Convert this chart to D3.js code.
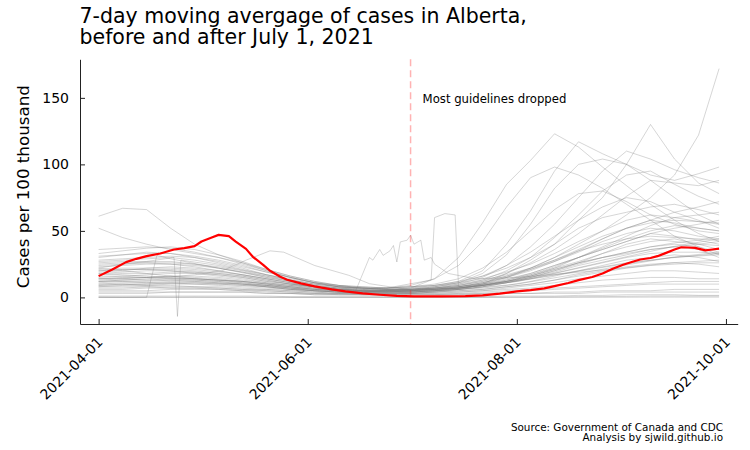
<!DOCTYPE html>
<html>
<head>
<meta charset="utf-8">
<script src="https://cdn.jsdelivr.net/npm/d3@7"></script>
<style>
  body { margin: 0; background: #fff; }
  text { font-family: "DejaVu Sans", sans-serif; }
</style>
</head>
<body>
<svg id="chart" width="750" height="450"></svg>
<script>
// weekly sample dates for the comparison jurisdictions
var weekDates = ["2021-04-01","2021-04-08","2021-04-15","2021-04-22","2021-04-29","2021-05-06","2021-05-13",
  "2021-05-20","2021-05-27","2021-06-03","2021-06-10","2021-06-17","2021-06-24","2021-07-01","2021-07-08",
  "2021-07-15","2021-07-22","2021-07-29","2021-08-05","2021-08-12","2021-08-19","2021-08-26","2021-09-02",
  "2021-09-09","2021-09-16","2021-09-23","2021-09-29"];

// 7-day avg cases per 100k, one row per state / province
var otherCases = [
  [22,20,18,16,14, 13,11,9,7,5, 4,4,5,7,14, 30,56,85,103,123, 113,98,84,70,58, 48,42],
  [18,17,16,15,14, 13,12,10,8,6, 5,5,6,7,9, 12,20,40,65,95, 117,108,100,88,75, 62,55],
  [12,12,11,11,10, 9,8,7,6,5, 4,4,5,6,8, 11,18,32,55,82, 100,104,100,92,88, 93,98],
  [8,8,8,7,7, 6,5,4,3,2, 2,2,2,3,4, 6,10,18,28,40, 58,75,100,130,104, 86,78],
  [10,10,9,9,8, 7,6,5,4,3, 3,3,3,4,5, 7,10,15,22,30, 40,50,62,75,92, 122,172],
  [14,14,13,13,12, 11,10,8,6,5, 4,4,4,5,7, 10,15,24,38,55, 75,95,110,104,96, 90,86],
  [20,21,21,20,18, 16,14,11,9,7, 6,6,7,9,14, 24,42,68,90,98, 92,82,70,58,46, 38,32],
  [16,16,15,14,13, 12,10,8,6,5, 4,4,4,5,7, 9,13,20,30,45, 62,80,92,95,85, 76,70],
  [25,26,26,25,23, 20,17,14,11,8, 6,5,5,6,7, 9,12,18,26,36, 48,62,76,88,86, 84,88],
  [30,32,34,33,30, 26,22,17,13,10, 8,7,7,8,10, 14,22,34,50,66, 78,80,72,62,55, 50,48],
  [19,20,22,23,22, 20,17,14,11,8, 6,5,5,6,8, 11,16,24,34,46, 58,68,75,72,64, 58,52],
  [27,28,29,30,28, 25,21,17,13,10, 8,7,7,8,9, 12,16,22,30,40, 52,60,64,68,70, 66,62],
  [33,35,37,38,36, 32,27,21,16,12, 9,8,7,8,9, 11,14,19,25,33, 42,50,58,62,60, 57,55],
  [36,37,38,37,34, 30,25,20,15,11, 9,8,7,7,8, 10,13,17,22,28, 36,44,52,58,56, 52,50],
  [24,25,26,26,25, 23,20,16,12,9, 7,6,6,6,7, 9,12,16,21,27, 34,42,48,52,50, 46,44],
  [15,16,17,18,18, 17,15,12,10,8, 6,5,5,5,6, 8,10,14,18,24, 30,36,42,48,46, 43,40],
  [13,14,15,16,16, 15,13,11,9,7, 5,4,4,4,5, 6,8,11,15,20, 26,33,40,44,42, 40,39],
  [28,29,30,31,30, 27,23,19,15,11, 8,7,6,6,7, 8,10,13,17,22, 27,33,38,42,44, 40,36],
  [31,32,33,33,31, 28,24,19,15,11, 8,7,6,6,6, 7,9,12,16,21, 26,30,34,38,40, 38,34],
  [21,22,22,22,21, 19,17,14,11,8, 6,5,5,5,6, 7,9,12,15,19, 24,28,32,36,38, 36,30],
  [17,18,18,19,19, 18,16,13,10,8, 6,5,4,4,5, 6,7,9,12,16, 20,24,28,30,32, 30,27],
  [11,12,12,13,13, 12,11,9,7,6, 5,4,4,4,4, 5,6,8,10,13, 17,20,23,25,26, 25,23],
  [9,10,10,11,11, 10,9,8,7,5, 4,3,3,3,4, 4,5,7,9,11, 14,16,18,20,20, 19,18],
  [7,7,8,8,8, 8,7,6,5,4, 3,3,3,3,3, 4,5,6,7,9, 11,13,14,15,15, 14,14],
  [5,5,5,6,6, 6,5,5,4,3, 3,2,2,2,2, 3,3,4,5,6, 7,8,9,10,10, 10,10],
  [1,1,1,1,1, 1,1,1,0.5,0.5, 0.5,0.5,0.5,0.5,0.5, 0.5,0.5,1,1,1, 1.5,1.5,2,2,2, 1.5,1.5],
  [0.3,0.2,0.3,0.2,0.3, 0.2,0.2,0.2,0.1,0.1, 0.1,0.1,0.1,0.1,0.1, 0.1,0.2,0.2,0.3,0.4, 0.5,0.6,0.8,1,1, 1,1],
  [0,0,0,0,0, 0,0,0,0,0, 0,0,0,0,0, 0,0,0,0,0, 0.1,0.1,0.1,0.2,0.2, 0.2,0.2],
  [3,3,3,4,4, 4,4,3,3,2, 2,2,2,2,2, 2,3,3,3,4, 4,5,5,5,6, 6,6],
  [61,67,66,52,40, 32,26,20,15,11, 8,6,5,5,5, 6,8,11,15,20, 25,30,33,36,38, 40,42],
  [52,45,40,36,33, 30,26,21,16,12, 9,7,6,6,6, 7,9,12,16,21, 26,30,34,38,41, 43,46],
  [14,15,15,16,15, 14,12,10,8,6, 5,4,4,5,6, 8,11,16,22,30, 38,46,52,56,58, 57,56],
  [10,11,11,12,12, 11,10,9,7,6, 5,4,4,4,5, 7,9,13,18,24, 30,36,42,48,52, 55,58],
  [26,27,27,27,25, 22,19,15,12,9, 7,6,5,5,6, 7,9,12,16,22, 30,38,46,54,60, 62,64],
  [18,19,20,20,19, 17,15,12,10,8, 6,5,5,5,6, 8,11,15,21,28, 35,40,44,46,45, 44,43],
  [8,9,9,10,10, 10,9,8,6,5, 4,3,3,3,4, 5,6,8,10,13, 16,19,22,24,25, 26,26],
  [12,13,13,14,14, 13,12,10,8,6, 5,4,4,4,5, 6,8,11,14,18, 22,26,30,33,34, 34,33],
  [20,21,21,21,20, 18,16,13,10,8, 6,5,5,5,6, 7,9,12,17,23, 30,37,44,50,54, 52,50],
  [6,6,7,7,7, 7,6,6,5,4, 3,3,3,3,3, 3,4,5,6,7, 8,9,10,11,12, 12,12],
  [4,4,4,4,4, 4,4,3,3,3, 2,2,2,2,2, 2,2,3,3,3, 3,4,4,4,4, 4,4],
  [23,24,25,25,24, 22,19,16,13,10, 8,7,6,6,7, 8,11,15,20,27, 35,44,52,58,64, 68,72]
];

// a few jurisdictions with reporting glitches, kept at their own dates
var glitchJuneDates = ["2021-04-01","2021-04-15","2021-04-29","2021-05-13","2021-05-27","2021-06-08","2021-06-15",
  "2021-06-19","2021-06-20","2021-06-22","2021-06-23","2021-06-25","2021-06-26","2021-06-27","2021-06-28",
  "2021-06-30","2021-07-01","2021-07-02","2021-07-04","2021-07-05","2021-07-07","2021-07-08","2021-07-12",
  "2021-07-20","2021-08-01","2021-08-15","2021-09-01","2021-09-15","2021-09-29"];
var glitchJuneCases = [9,10,11,10,8,6,5, 30,28,36,31.6,35,39,26.6,41.7, 43,46.7,40,43,28,30,25,18, 14,15,18,22,26,28];

var humpMayDates = ["2021-04-01","2021-04-15","2021-04-29","2021-05-07","2021-05-14","2021-05-21","2021-05-25",
  "2021-06-03","2021-06-13","2021-06-19","2021-06-30","2021-07-15","2021-08-01","2021-08-15","2021-09-01",
  "2021-09-15","2021-09-29"];
var humpMayCases = [12,14,17,20,28,35,34, 24,16.6,10.3,6,7,12,18,25, 30,32];

var dipAprilDates = ["2021-04-01","2021-04-08","2021-04-15","2021-04-23","2021-04-24","2021-04-25","2021-05-06",
  "2021-05-20","2021-06-03","2021-06-17","2021-07-01","2021-07-15","2021-08-01","2021-08-15","2021-09-01",
  "2021-09-15","2021-09-29"];
var dipAprilCases = [22,25,27,30,-14.3,28,24, 17,11,7,5,7,12,20,30, 38,44];

var jumpJulyDates = ["2021-04-01","2021-04-15","2021-04-29","2021-05-13","2021-05-27","2021-06-10","2021-06-24",
  "2021-07-07","2021-07-08","2021-07-11","2021-07-14","2021-07-15","2021-07-22","2021-08-05","2021-08-19",
  "2021-09-02","2021-09-16","2021-09-29"];
var jumpJulyCases = [14,15,14,12,9,7,7, 13,60,63,62,8,10,14,20, 26,30,33];

var lateStartDates = ["2021-04-01","2021-04-15","2021-04-18","2021-04-22","2021-05-06","2021-05-20","2021-06-03",
  "2021-06-17","2021-07-01","2021-07-15","2021-08-01","2021-08-15","2021-09-01","2021-09-15","2021-09-29"];
var lateStartCases = [0,0,31.6,29,22,15,9, 5,4,6,10,16,24,30,34];

// Alberta
var albertaDates = ["2021-04-01","2021-04-05","2021-04-09","2021-04-12","2021-04-15","2021-04-19","2021-04-23",
  "2021-04-26","2021-04-29","2021-05-01","2021-05-04","2021-05-06","2021-05-09","2021-05-11","2021-05-14",
  "2021-05-16","2021-05-19","2021-05-21","2021-05-24","2021-05-26","2021-05-30","2021-06-03","2021-06-08",
  "2021-06-12","2021-06-17","2021-06-22","2021-06-27","2021-07-02","2021-07-10","2021-07-17","2021-07-22",
  "2021-07-27","2021-08-01","2021-08-05","2021-08-09","2021-08-12","2021-08-16","2021-08-19","2021-08-23",
  "2021-08-26","2021-08-29","2021-09-01","2021-09-04","2021-09-06","2021-09-09","2021-09-11","2021-09-13",
  "2021-09-16","2021-09-18","2021-09-20","2021-09-22","2021-09-25","2021-09-27","2021-09-29"];
var albertaCases = [16,21,26.5,29,31,33,36, 37,38.5,42,45,47,46,42,36.5, 30.5,24.5,20,15.5,13.3,10.5,8.3,6,
  4.5,3,2,1.2,0.8,0.7,1,1.5, 2.8,4.5,5.5,6.8,8.5,10.8,13,15.3, 18,21.6,24.5,27,28.5,29.6,31,32.9,
  36,37.7,37.5,37.2,35.4,36,36.7];

var xTickDates = ["2021-04-01","2021-06-01","2021-08-01","2021-10-01"];
var yTicks = [0, 50, 100, 150];
var guidelineDate = "2021-07-01";

var parse = d3.timeParse("%Y-%m-%d");
var svg = d3.select("#chart");

var plotLeft = 80, plotRight = 737.7, plotTop = 59.3, plotBottom = 324;

// 3% padding on the date range, like the original plot
var ext = d3.extent(weekDates.concat(albertaDates).map(parse));
var pad = (ext[1] - ext[0]) * 0.03;
var x = d3.scaleTime()
  .domain([new Date(+ext[0] - pad), new Date(+ext[1] + pad)])
  .range([plotLeft, plotRight]);
var y = d3.scaleLinear().domain([-20, 179]).range([plotBottom, plotTop]);

var line = d3.line()
  .x(function (d) { return x(d[0]); })
  .y(function (d) { return y(d[1]); });

function pairs(dates, vals) {
  return vals.map(function (v, i) { return [parse(dates[i]), v]; });
}

var greyData = otherCases.map(function (vals) { return pairs(weekDates, vals); });
greyData.push(pairs(glitchJuneDates, glitchJuneCases));
greyData.push(pairs(humpMayDates, humpMayCases));
greyData.push(pairs(dipAprilDates, dipAprilCases));
greyData.push(pairs(jumpJulyDates, jumpJulyCases));
greyData.push(pairs(lateStartDates, lateStartCases));

svg.append("g")
  .selectAll("path")
  .data(greyData)
  .enter()
  .append("path")
  .attr("d", line)
  .attr("fill", "none")
  .attr("stroke", "#808080")
  .attr("stroke-opacity", 0.32)
  .attr("stroke-width", 1);

// guidelines dropped
var gx = x(parse(guidelineDate));
svg.append("line")
  .attr("x1", gx).attr("x2", gx)
  .attr("y1", plotTop).attr("y2", plotBottom)
  .attr("stroke", "red")
  .attr("stroke-opacity", 0.3)
  .attr("stroke-width", 1.5)
  .attr("stroke-dasharray", "7,4");

svg.append("text")
  .attr("x", gx + 12)
  .attr("y", 103)
  .style("font-size", "11.7px")
  .text("Most guidelines dropped");

svg.append("path")
  .datum(pairs(albertaDates, albertaCases))
  .attr("d", line)
  .attr("fill", "none")
  .attr("stroke", "#ff0000")
  .attr("stroke-width", 2.2)
  .attr("stroke-linejoin", "round");

// axes
var xAxis = svg.append("g")
  .attr("transform", "translate(0," + plotBottom + ")")
  .call(d3.axisBottom(x)
    .tickValues(xTickDates.map(parse))
    .tickFormat(d3.timeFormat("%Y-%m-%d"))
    .tickSize(-5)
    .tickSizeOuter(0));
xAxis.selectAll("text")
  .attr("x", 0).attr("y", 0).attr("dy", 0)
  .attr("text-anchor", "end")
  .attr("transform", "translate(4.5,19) rotate(-45)")
  .style("font-size", "14px")
  .attr("fill", "#000");

var yAxis = svg.append("g")
  .attr("transform", "translate(" + plotLeft + ",0)")
  .call(d3.axisLeft(y)
    .tickValues(yTicks)
    .tickSize(-5)
    .tickSizeOuter(0)
    .tickPadding(11));
yAxis.selectAll("text")
  .style("font-size", "14px")
  .attr("fill", "#000");

svg.selectAll(".domain, .tick line")
  .attr("stroke", "#222")
  .attr("stroke-width", 1);

svg.append("text")
  .attr("transform", "translate(29,186.7) rotate(-90)")
  .attr("text-anchor", "middle")
  .style("font-size", "16.7px")
  .text("Cases per 100 thousand");

// title
var title = svg.append("text")
  .attr("x", 79.5)
  .style("font-size", "20.5px");
title.append("tspan").attr("x", 79.5).attr("y", 22.7).text("7-day moving avergage of cases in Alberta,");
title.append("tspan").attr("x", 79.5).attr("y", 44.3).text("before and after July 1, 2021");

// source note
var note = svg.append("text")
  .attr("text-anchor", "end")
  .style("font-size", "10.4px");
note.append("tspan").attr("x", 723).attr("y", 430.5).text("Source: Government of Canada and CDC");
note.append("tspan").attr("x", 723).attr("y", 441).text("Analysis by sjwild.github.io");
</script>
</body>
</html>
